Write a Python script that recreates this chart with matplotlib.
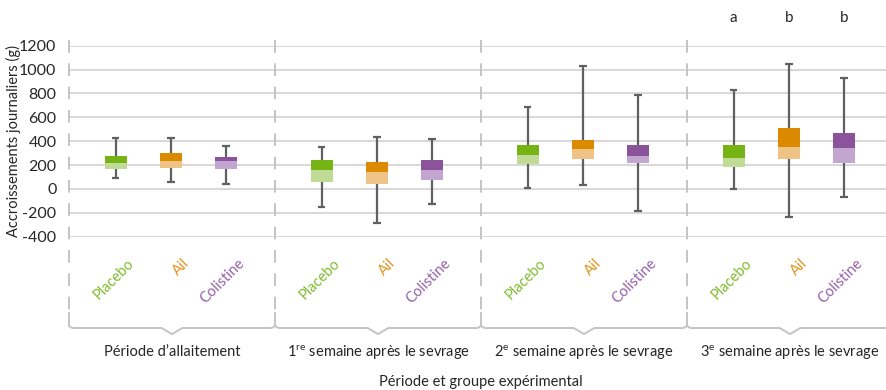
"""Daily weight gain per period and experimental group (box summary)."""

import matplotlib
matplotlib.use('Agg')
import matplotlib.pyplot as plt
from matplotlib.transforms import offset_copy

plt.rcParams['font.family'] = ['Lato', 'DejaVu Sans']
plt.rcParams['mathtext.fontset'] = 'custom'
plt.rcParams['mathtext.rm'] = 'Lato'

# Data
periods = [
    "Période d’allaitement",
    "1$^{\\mathrm{re}}$ semaine après le sevrage",
    "2$^{\\mathrm{e}}$ semaine après le sevrage",
    "3$^{\\mathrm{e}}$ semaine après le sevrage",
]
groups = ['Placebo', 'Ail', 'Colistine']

# one list per group, one value per period
whisker_low = {
    'Placebo': [93, -148, 5, 0],
    'Ail': [62, -285, 33, -232],
    'Colistine': [42, -128, -184, -67],
}
q1 = {
    'Placebo': [166, 56, 206, 180],
    'Ail': [175, 39, 248, 248],
    'Colistine': [166, 73, 214, 214],
}
median = {
    'Placebo': [217, 158, 287, 262],
    'Ail': [234, 141, 338, 355],
    'Colistine': [231, 158, 279, 347],
}
q3 = {
    'Placebo': [273, 240, 372, 372],
    'Ail': [299, 223, 414, 507],
    'Colistine': [265, 240, 372, 465],
}
whisker_high = {
    'Placebo': [423, 355, 684, 826],
    'Ail': [428, 431, 1033, 1047],
    'Colistine': [361, 417, 784, 929],
}
signif_letters = ['a', 'b', 'b']  # last period only

yticks = list(range(-400, 1201, 200))

# Styles
dark = {'Placebo': '#76b314', 'Ail': '#db8a00', 'Colistine': '#8a539b'}
light = {'Placebo': '#c0db95', 'Ail': '#efc386', 'Colistine': '#c3a6d0'}
label_col = {'Placebo': '#7fbb2e', 'Ail': '#e39520', 'Colistine': '#9461a8'}
offsets = [-0.268, 0.0, 0.268]
box_w = 0.107
cap_w = 0.018
txt_col = '#262626'

fig = plt.figure(figsize=(8.87, 3.90), dpi=100)
ax = fig.add_axes([69 / 887, 153.3 / 390, 824 / 887, 191 / 390])

for k, g in enumerate(groups):
    xs = [i + 0.495 + offsets[k] for i in range(len(periods))]
    ax.vlines(xs, whisker_low[g], whisker_high[g], color='#606060',
              lw=1.6, zorder=2)
    for y in (whisker_low[g], whisker_high[g]):
        ax.hlines(y, [x - cap_w for x in xs], [x + cap_w for x in xs],
                  color='#606060', lw=1.6, zorder=2)
    lower = [m - a for m, a in zip(median[g], q1[g])]
    upper = [b - m for b, m in zip(q3[g], median[g])]
    ax.bar(xs, lower, bottom=q1[g], width=box_w, color=light[g], zorder=3)
    ax.bar(xs, upper, bottom=median[g], width=box_w, color=dark[g], zorder=3)

    # rotated category labels under the plot
    tr = offset_copy(ax.get_xaxis_transform(), fig=fig, x=16, y=0,
                     units='dots')
    for x in xs:
        ax.text(x, -0.13, g, transform=tr, rotation=45,
                rotation_mode='anchor', ha='right', va='center',
                color=label_col[g], fontsize=10.5, clip_on=False)

    # letters above last period
    ax.text(xs[-1], 1.145, signif_letters[k], transform=ax.get_xaxis_transform(),
            ha='center', va='center', fontsize=11, color=txt_col)

ax.set_xlim(0, len(periods))
ax.set_ylim(-400, 1200)
ax.set_yticks(yticks)
ax.set_yticklabels([str(t) for t in yticks], fontsize=11.5, color=txt_col)
ax.set_xticks([])
ax.tick_params(axis='y', length=0, pad=9)
ax.yaxis.grid(True, color='#d9d9d9', lw=1.5)
ax.set_axisbelow(True)
for s in ax.spines.values():
    s.set_visible(False)
ax.set_ylabel('Accroissements journaliers (g)', fontsize=10.5, color=txt_col)
ax.yaxis.set_label_coords(-0.058, 0.5)

# group separators, bracket and period names
xtr = ax.get_xaxis_transform()
line_kw = dict(color='#c4c4c4', lw=1.4, transform=xtr, clip_on=False)
for i in range(len(periods) + 1):
    ax.plot([i, i], [1.03, -0.40], ls=(0, (6.5, 5.5)), **line_kw)
    ax.plot([i, i], [-0.40, -0.465], **line_kw)
for i, p in enumerate(periods):
    c = i + 0.5
    bx = [i, i + 0.008, i + 0.02, c - 0.05, c, c + 0.05,
          i + 0.98, i + 0.992, i + 1]
    by = [-0.465, -0.474, -0.478, -0.478, -0.51, -0.478,
          -0.478, -0.474, -0.465]
    ax.plot(bx, by, **line_kw)
    ax.text(c, -0.605, p, transform=xtr, ha='center', va='center',
            fontsize=10.5, color=txt_col)

ax.text(2.0, -0.76, 'Période et groupe expérimental', transform=xtr,
        ha='center', va='center', fontsize=10.5, color=txt_col)

fig.savefig('out.png', dpi=100)
plt.close(fig)
